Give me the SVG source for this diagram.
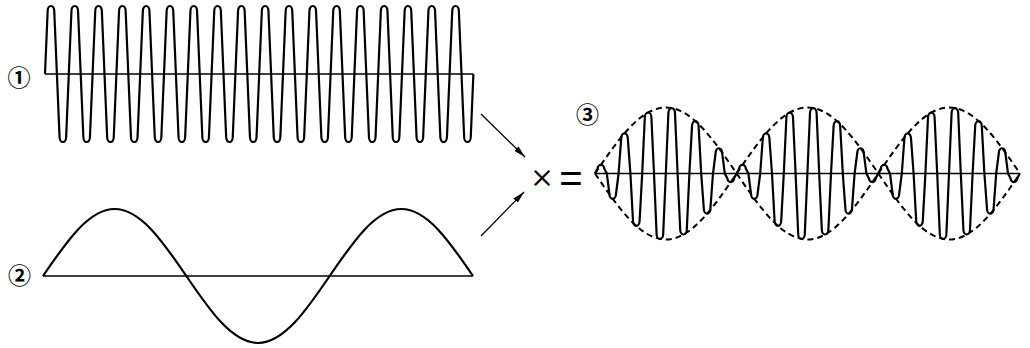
<svg xmlns="http://www.w3.org/2000/svg" width="1030" height="348" viewBox="0 0 1030 348">
<defs>
<style>
.wave{fill:none;stroke:#000;stroke-width:2.2;stroke-linejoin:round}
.axis{fill:none;stroke:#000;stroke-width:1.6}
.env{fill:none;stroke:#000;stroke-width:2;stroke-dasharray:6 4}
.conn{fill:none;stroke:#000;stroke-width:1.3}
.lbl{font-family:"Noto Sans CJK JP","DejaVu Sans",sans-serif;font-size:23px;font-weight:bold;fill:#000;text-anchor:middle;dominant-baseline:central}
.op{font-family:Inter,"Liberation Sans",sans-serif;font-weight:300;fill:#000;text-anchor:middle;dominant-baseline:central}
</style>
<marker id="arr" viewBox="0 0 12 6" refX="12" refY="3" markerWidth="12" markerHeight="6" markerUnits="userSpaceOnUse" orient="auto">
<path d="M0,0 L12,3 L0,6 Z" fill="#000"/>
</marker>
</defs>
<rect width="1030" height="348" fill="#fff"/>

<g id="wave1">
<line class="axis" x1="45" y1="74" x2="473.4" y2="74"/>
<path class="wave" d="M45,74
l2.65,-63 a3.3,5 0 0 1 6.6,0 l5.3,126 a3.3,5 0 0 0 6.6,0 l2.65,-63
l2.65,-63 a3.3,5 0 0 1 6.6,0 l5.3,126 a3.3,5 0 0 0 6.6,0 l2.65,-63
l2.65,-63 a3.3,5 0 0 1 6.6,0 l5.3,126 a3.3,5 0 0 0 6.6,0 l2.65,-63
l2.65,-63 a3.3,5 0 0 1 6.6,0 l5.3,126 a3.3,5 0 0 0 6.6,0 l2.65,-63
l2.65,-63 a3.3,5 0 0 1 6.6,0 l5.3,126 a3.3,5 0 0 0 6.6,0 l2.65,-63
l2.65,-63 a3.3,5 0 0 1 6.6,0 l5.3,126 a3.3,5 0 0 0 6.6,0 l2.65,-63
l2.65,-63 a3.3,5 0 0 1 6.6,0 l5.3,126 a3.3,5 0 0 0 6.6,0 l2.65,-63
l2.65,-63 a3.3,5 0 0 1 6.6,0 l5.3,126 a3.3,5 0 0 0 6.6,0 l2.65,-63
l2.65,-63 a3.3,5 0 0 1 6.6,0 l5.3,126 a3.3,5 0 0 0 6.6,0 l2.65,-63
l2.65,-63 a3.3,5 0 0 1 6.6,0 l5.3,126 a3.3,5 0 0 0 6.6,0 l2.65,-63
l2.65,-63 a3.3,5 0 0 1 6.6,0 l5.3,126 a3.3,5 0 0 0 6.6,0 l2.65,-63
l2.65,-63 a3.3,5 0 0 1 6.6,0 l5.3,126 a3.3,5 0 0 0 6.6,0 l2.65,-63
l2.65,-63 a3.3,5 0 0 1 6.6,0 l5.3,126 a3.3,5 0 0 0 6.6,0 l2.65,-63
l2.65,-63 a3.3,5 0 0 1 6.6,0 l5.3,126 a3.3,5 0 0 0 6.6,0 l2.65,-63
l2.65,-63 a3.3,5 0 0 1 6.6,0 l5.3,126 a3.3,5 0 0 0 6.6,0 l2.65,-63
l2.65,-63 a3.3,5 0 0 1 6.6,0 l5.3,126 a3.3,5 0 0 0 6.6,0 l2.65,-63
l2.65,-63 a3.3,5 0 0 1 6.6,0 l5.3,126 a3.3,5 0 0 0 6.6,0 l2.65,-63
l2.65,-63 a3.3,5 0 0 1 6.6,0 l5.3,126 a3.3,5 0 0 0 6.6,0 l2.65,-63"/>
<text class="lbl" x="19" y="76">①</text>
</g>

<g id="wave2">
<line class="axis" x1="43" y1="276" x2="473" y2="276"/>
<path class="wave" d="M43,276
c23.37,-34.32 45.73,-67 71.67,-67 c25.94,0 48.3,32.68 71.67,67
c23.37,34.32 45.73,67 71.67,67 c25.94,0 48.3,-32.68 71.67,-67
c23.37,-34.32 45.73,-67 71.67,-67 c25.94,0 48.3,32.68 71.67,67"/>
<text class="lbl" x="19.5" y="274">②</text>
</g>

<g id="operators">
<text class="op" x="542" y="175" font-size="36">×</text>
<text class="op" x="571" y="174.5" font-size="48">=</text>
</g>

<g id="wave3">
<line class="axis" x1="595" y1="173.5" x2="1020" y2="173.5"/>
<path class="env" d="M595,173.5
c23.1,-33.81 45.2,-66 70.83,-66 c25.63,0 47.73,32.19 70.83,66
c23.1,-33.81 45.2,-66 70.83,-66 c25.63,0 47.73,32.19 70.83,66
c23.1,-33.81 45.2,-66 70.83,-66 c25.63,0 47.73,32.19 70.83,66"/>
<path class="env" d="M595,173.5
c23.1,33.81 45.2,66 70.83,66 c25.63,0 47.73,-32.19 70.83,-66
c23.1,33.81 45.2,66 70.83,66 c25.63,0 47.73,-32.19 70.83,-66
c23.1,33.81 45.2,66 70.83,66 c25.63,0 47.73,-32.19 70.83,-66"/>
<path class="wave" d="M595,173.5
l2.6,-5.11 a3.3,3.5 0 0 1 6.6,0 l2.6,5.11
l2.6,20.26 a3.3,5 0 0 0 6.6,0 l2.6,-20.26
l2.6,-35.18 a3.3,5 0 0 1 6.6,0 l2.6,35.18
l2.6,47.36 a3.3,5 0 0 0 6.6,0 l2.6,-47.36
l2.6,-55.98 a3.3,5 0 0 1 6.6,0 l2.6,55.98
l2.6,60.43 a3.3,5 0 0 0 6.6,0 l2.6,-60.43
l2.6,-60.43 a3.3,5 0 0 1 6.6,0 l2.6,60.43
l2.6,55.98 a3.3,5 0 0 0 6.6,0 l2.6,-55.98
l2.6,-47.36 a3.3,5 0 0 1 6.6,0 l2.6,47.36
l2.6,35.18 a3.3,5 0 0 0 6.6,0 l2.6,-35.18
l2.6,-20.26 a3.3,5 0 0 1 6.6,0 l2.6,20.26
l2.6,5.11 a3.3,3.5 0 0 0 6.6,0 l2.6,-5.11
l2.6,-5.11 a3.3,3.5 0 0 1 6.6,0 l2.6,5.11
l2.6,20.26 a3.3,5 0 0 0 6.6,0 l2.6,-20.26
l2.6,-35.18 a3.3,5 0 0 1 6.6,0 l2.6,35.18
l2.6,47.36 a3.3,5 0 0 0 6.6,0 l2.6,-47.36
l2.6,-55.98 a3.3,5 0 0 1 6.6,0 l2.6,55.98
l2.6,60.43 a3.3,5 0 0 0 6.6,0 l2.6,-60.43
l2.6,-60.43 a3.3,5 0 0 1 6.6,0 l2.6,60.43
l2.6,55.98 a3.3,5 0 0 0 6.6,0 l2.6,-55.98
l2.6,-47.36 a3.3,5 0 0 1 6.6,0 l2.6,47.36
l2.6,35.18 a3.3,5 0 0 0 6.6,0 l2.6,-35.18
l2.6,-20.26 a3.3,5 0 0 1 6.6,0 l2.6,20.26
l2.6,5.11 a3.3,3.5 0 0 0 6.6,0 l2.6,-5.11
l2.6,-5.11 a3.3,3.5 0 0 1 6.6,0 l2.6,5.11
l2.6,20.26 a3.3,5 0 0 0 6.6,0 l2.6,-20.26
l2.6,-35.18 a3.3,5 0 0 1 6.6,0 l2.6,35.18
l2.6,47.36 a3.3,5 0 0 0 6.6,0 l2.6,-47.36
l2.6,-55.98 a3.3,5 0 0 1 6.6,0 l2.6,55.98
l2.6,60.43 a3.3,5 0 0 0 6.6,0 l2.6,-60.43
l2.6,-60.43 a3.3,5 0 0 1 6.6,0 l2.6,60.43
l2.6,55.98 a3.3,5 0 0 0 6.6,0 l2.6,-55.98
l2.6,-47.36 a3.3,5 0 0 1 6.6,0 l2.6,47.36
l2.6,35.18 a3.3,5 0 0 0 6.6,0 l2.6,-35.18
l2.6,-20.26 a3.3,5 0 0 1 6.6,0 l2.6,20.26
l2.6,5.11 a3.3,3.5 0 0 0 6.6,0 l2.6,-5.11"/>
<text class="lbl" x="587.5" y="113">③</text>
</g>

<g id="connectors">
<line class="conn" x1="481" y1="114" x2="525" y2="157" marker-end="url(#arr)"/>
<line class="conn" x1="481" y1="236" x2="524" y2="192" marker-end="url(#arr)"/>
</g>
</svg>
